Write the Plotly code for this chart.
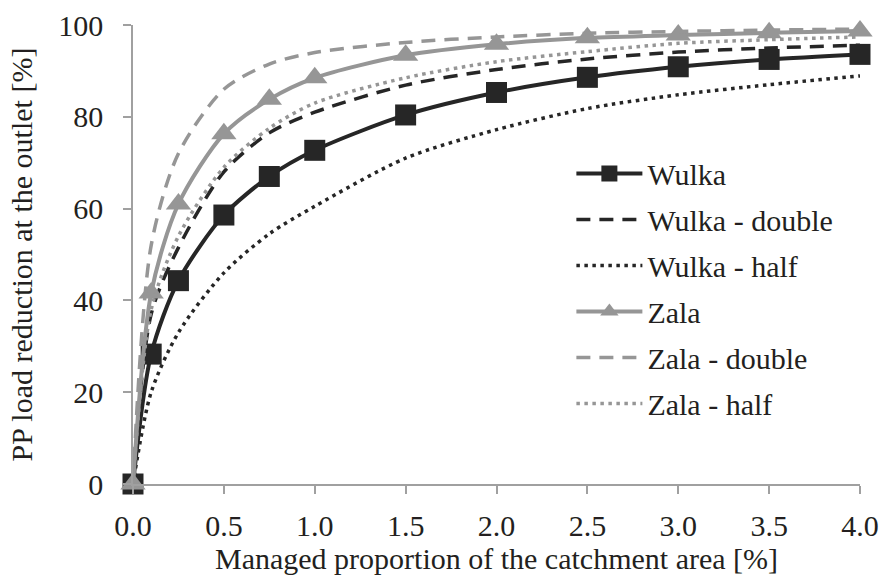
import plotly.graph_objects as go

x_vals = [0, 0.1, 0.25, 0.5, 0.75, 1.0, 1.5, 2.0, 2.5, 3.0, 3.5, 4.0]

wulka = [0, 28.3, 44.3, 58.6, 67.0, 72.7, 80.4, 85.3, 88.6, 90.9, 92.5, 93.6]
wulka_double = [0, 37.0, 51.5, 68.0, 76.5, 81.0, 86.9, 90.3, 92.6, 94.1, 95.0, 95.6]
wulka_half = [0, 20.0, 33.0, 46.0, 54.5, 60.5, 71.0, 77.2, 81.8, 84.8, 87.0, 88.9]
zala = [0, 41.6, 61.0, 76.3, 83.8, 88.5, 93.4, 95.8, 97.2, 97.8, 98.3, 98.7]
zala_double = [0, 52.0, 72.0, 86.0, 91.5, 94.0, 96.2, 97.4, 98.2, 98.6, 98.9, 99.1]
zala_half = [0, 38.0, 54.0, 69.0, 77.5, 83.0, 88.5, 92.0, 94.2, 96.0, 96.8, 97.4]

series_names = ["Wulka", "Wulka - double", "Wulka - half", "Zala", "Zala - double", "Zala - half"]
series_values = [wulka, wulka_double, wulka_half, zala, zala_double, zala_half]

x_tick_vals = [0, 0.5, 1.0, 1.5, 2.0, 2.5, 3.0, 3.5, 4.0]
x_tick_text = ["0.0", "0.5", "1.0", "1.5", "2.0", "2.5", "3.0", "3.5", "4.0"]
y_tick_vals = [0, 20, 40, 60, 80, 100]

BLACK = "#262626"
GRAY = "#969696"
FONT = "Liberation Serif"

styles = [
    dict(mode="lines+markers", line=dict(color=BLACK, width=4),
         marker=dict(symbol="square", size=21, color=BLACK)),
    dict(mode="lines", line=dict(color=BLACK, width=3.5, dash="14px,9px")),
    dict(mode="lines", line=dict(color=BLACK, width=3.5, dash="3.5px,4.5px")),
    dict(mode="lines+markers", line=dict(color=GRAY, width=4),
         marker=dict(symbol="triangle-up", size=22, color=GRAY)),
    dict(mode="lines", line=dict(color=GRAY, width=3.5, dash="14px,9px")),
    dict(mode="lines", line=dict(color=GRAY, width=3.5, dash="3.5px,4.5px")),
]

fig = go.Figure()
for i, (name, vals, st) in enumerate(zip(series_names, series_values, styles)):
    line = dict(st["line"], shape="spline", smoothing=0.8)
    kw = dict(x=x_vals, y=vals, name=name, mode=st["mode"], line=line,
              cliponaxis=False, legendgroup=f"g{i}")
    if "marker" in st:
        kw["marker"] = st["marker"]
    fig.add_trace(go.Scatter(**kw))

fig.update_layout(
    width=885, height=585,
    margin=dict(l=133, r=25, t=25, b=101, autoexpand=False),
    paper_bgcolor="white", plot_bgcolor="white",
    font=dict(family=FONT, size=30, color="#231f20"),
    showlegend=True,
    legend=dict(x=0.603, y=0.733, xanchor="left", yanchor="top",
                bgcolor="rgba(0,0,0,0)", itemwidth=66, tracegroupgap=4,
                font=dict(family=FONT, size=30, color="#231f20")),
    xaxis=dict(range=[0, 4], tickvals=x_tick_vals, ticktext=x_tick_text,
               showgrid=False, zeroline=False, showline=True, automargin=False,
               linecolor="#a0a0a0", linewidth=1.5, ticks="outside",
               ticklen=8, tickcolor="#a0a0a0", tickwidth=1.5,
               ticklabelstandoff=6,
               tickfont=dict(family=FONT, size=30),
               title=dict(text="Managed proportion of the catchment area [%]",
                          standoff=6, font=dict(family=FONT, size=30))),
    yaxis=dict(range=[0, 100], tickvals=y_tick_vals,
               showgrid=False, zeroline=False, showline=True, automargin=False,
               linecolor="#a0a0a0", linewidth=1.5, ticks="outside",
               ticklen=8, tickcolor="#a0a0a0", tickwidth=1.5,
               ticklabelstandoff=14,
               tickfont=dict(family=FONT, size=30),
               title=dict(text="PP load reduction at the outlet [%]",
                          standoff=17, font=dict(family=FONT, size=30))),
)

fig.write_html("out.html")
